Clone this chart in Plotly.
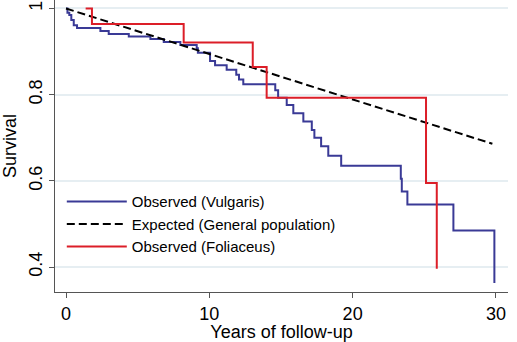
import plotly.graph_objects as go

# Observed survival, Vulgaris (step function: time, survival after event)
vulgaris_t = [0, 0.10, 0.23, 0.37, 0.54, 0.77, 2.40, 2.98, 4.38, 5.89, 6.82, 7.98,
              9.12, 9.20, 10.05, 10.40, 11.21, 11.88, 12.07, 12.37, 14.60, 14.80,
              15.40, 15.86, 16.56, 17.15, 17.33, 17.80, 18.30, 19.20, 23.36, 23.43,
              23.82, 27.03, 29.89]
vulgaris_s = [1.0, 0.990, 0.985, 0.973, 0.961, 0.955, 0.948, 0.941, 0.935, 0.929, 0.922, 0.915,
              0.908, 0.897, 0.878, 0.868, 0.858, 0.846, 0.835, 0.824, 0.810, 0.793,
              0.776, 0.757, 0.738, 0.718, 0.700, 0.680, 0.658, 0.635, 0.605, 0.575,
              0.545, 0.485, 0.363]

# Expected survival, general population
expected_t = [0, 29.75]
expected_s = [1.0, 0.686]

# Observed survival, Foliaceus
foliaceus_t = [1.37, 1.81, 8.21, 13.03, 14.00, 25.12, 25.87]
foliaceus_s = [1.0, 0.964, 0.921, 0.864, 0.793, 0.595, 0.396]

x_ticks = [0, 10, 20, 30]
y_ticks = [0.4, 0.6, 0.8, 1]
y_tick_text = ["0.4", "0.6", "0.8", "1"]

FONT = "Liberation Sans, Arial, sans-serif"

fig = go.Figure()
fig.add_trace(go.Scatter(x=vulgaris_t, y=vulgaris_s, mode="lines", line_shape="hv",
                         name="Observed (Vulgaris)",
                         line=dict(color="#3a3a96", width=2)))
fig.add_trace(go.Scatter(x=expected_t, y=expected_s, mode="lines",
                         name="Expected (General population)",
                         line=dict(color="black", width=2, dash="8px,4px")))
fig.add_trace(go.Scatter(x=foliaceus_t, y=foliaceus_s, mode="lines", line_shape="hv",
                         name="Observed (Foliaceus)",
                         line=dict(color="#dc1e28", width=2)))

fig.update_layout(
    width=517, height=342,
    margin=dict(l=55, r=9, t=0, b=50),
    paper_bgcolor="white", plot_bgcolor="white",
    font=dict(family=FONT, color="black", size=18),
    showlegend=True,
    legend=dict(x=0.015, y=0.366, xanchor="left", yanchor="top",
                bgcolor="rgba(0,0,0,0)", font=dict(size=15, family=FONT),
                itemwidth=60, tracegroupgap=0),
)
fig.update_xaxes(range=[-0.768, 30.84], tickvals=x_ticks, ticks="outside", ticklen=5,
                 tickcolor="#555555", showline=True, linecolor="#555555", linewidth=1,
                 showgrid=False, zeroline=False,
                 tickfont=dict(size=18, family=FONT),
                 title=dict(text="Years of follow-up", font=dict(size=18, family=FONT), standoff=2))
fig.update_yaxes(range=[0.342, 1.0197], tickvals=y_ticks, ticktext=y_tick_text,
                 tickangle=-90, ticks="outside", ticklen=5,
                 tickcolor="#555555", showline=True, linecolor="#555555", linewidth=1,
                 showgrid=True, gridcolor="#e6eef2", gridwidth=1.5, zeroline=False,
                 tickfont=dict(size=18, family=FONT),
                 title=dict(text="Survival", font=dict(size=18, family=FONT), standoff=4))

fig.write_html("out.html")
